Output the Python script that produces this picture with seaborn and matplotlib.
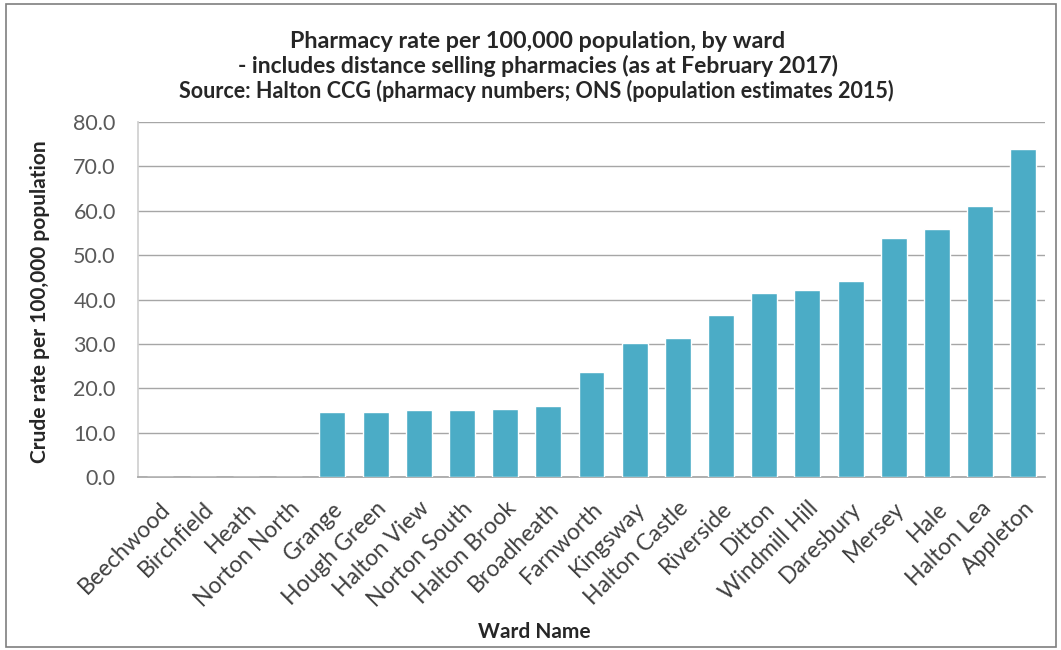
import matplotlib
matplotlib.use("Agg")
import matplotlib.pyplot as plt
import seaborn as sns
import pandas as pd
from matplotlib.patches import Rectangle

wards = ["Beechwood", "Birchfield", "Heath", "Norton North", "Grange",
         "Hough Green", "Halton View", "Norton South", "Halton Brook",
         "Broadheath", "Farnworth", "Kingsway", "Halton Castle", "Riverside",
         "Ditton", "Windmill Hill", "Daresbury", "Mersey", "Hale",
         "Halton Lea", "Appleton"]
rates = [0.0, 0.0, 0.0, 0.0, 14.6, 14.7, 15.1, 15.1, 15.3,
         15.9, 23.7, 30.1, 31.4, 36.6, 41.4, 42.2, 44.1, 53.9, 55.9,
         61.0, 73.9]
yticks = [0, 10, 20, 30, 40, 50, 60, 70, 80]

title_lines = ["Pharmacy rate per 100,000 population, by ward",
               "- includes distance selling pharmacies (as at February 2017)",
               "Source: Halton CCG (pharmacy numbers; ONS (population estimates 2015)"]

df = pd.DataFrame({"Ward": wards, "Rate": rates})

sns.set_theme(style="white")
plt.rcParams["font.family"] = ["Lato", "DejaVu Sans"]

W, H = 1061, 650
fig = plt.figure(figsize=(W / 100, H / 100), dpi=100)
left, right, top, bottom = 138, 1045, 122, 477
ax = fig.add_axes([left / W, 1 - bottom / H, (right - left) / W, (bottom - top) / H])

sns.barplot(data=df, x="Ward", y="Rate", color="#4BACC6", saturation=1,
            width=0.6, ax=ax, zorder=3)

ax.set_ylim(0, 80)
ax.set_xlim(-0.5, len(wards) - 0.5)
ax.set_yticks(yticks)
ax.set_yticklabels([f"{v:.1f}" for v in yticks], fontsize=15.5, color="#595959")
ax.yaxis.grid(True, color="#a6a6a6", linewidth=1.0, zorder=0)
ax.set_axisbelow(True)
ax.tick_params(axis="y", length=0, pad=16)
ax.set_xticks(range(len(wards)))
ax.set_xticklabels(wards, rotation=45, ha="right", rotation_mode="anchor",
                   fontsize=16.5, color="#404040")
ax.tick_params(axis="x", length=0, pad=15)

for side in ["top", "right"]:
    ax.spines[side].set_visible(False)
ax.spines["left"].set_color("#d0d0d0")
ax.spines["bottom"].set_color("#a6a6a6")

ax.set_xlabel("")
ax.set_ylabel("")
fig.text(534 / W, 1 - 632 / H, "Ward Name", ha="center", va="center",
         fontsize=15, fontweight="bold", color="#262626")
fig.text(40 / W, 1 - 302 / H, "Crude rate per 100,000 population", ha="center",
         va="center", rotation=90, fontsize=15, fontweight="bold", color="#262626")

fig.text(538 / W, 1 - 48 / H, title_lines[0], ha="center", va="baseline",
         fontsize=16.8, fontweight="bold", color="#262626")
fig.text(538 / W, 1 - 73 / H, title_lines[1], ha="center", va="baseline",
         fontsize=16.5, fontweight="bold", color="#262626")
fig.text(536 / W, 1 - 98 / H, title_lines[2], ha="center", va="baseline",
         fontsize=15.5, fontweight="bold", color="#262626")

fig.patches.append(Rectangle((6 / W, 3 / H), 1050 / W, 643 / H,
                             transform=fig.transFigure, fill=False,
                             edgecolor="#7f7f7f", linewidth=1.2))

fig.savefig("out.png", dpi=100)
